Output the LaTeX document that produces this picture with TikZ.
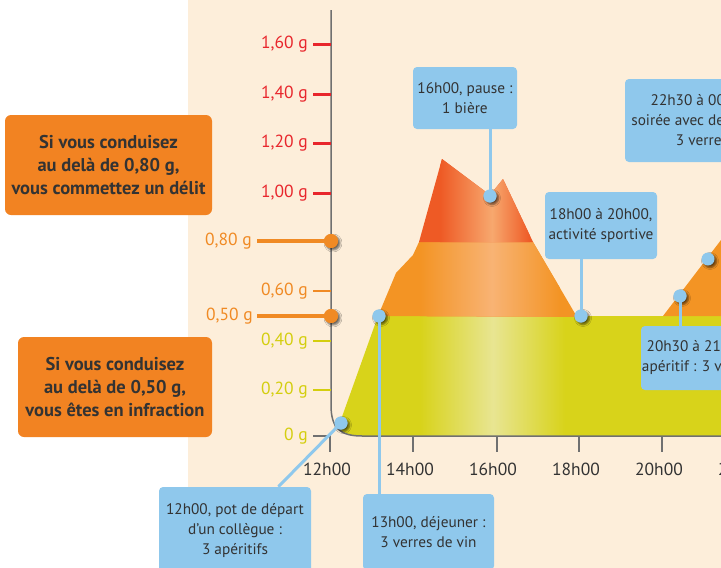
\documentclass[tikz,border=0pt]{standalone}
\usepackage{fontspec}
\setmainfont{PT Sans}
\usetikzlibrary{shadows.blur,calc}
\definecolor{cream}{HTML}{FDEEDA}
\definecolor{orb}{HTML}{F28322}
\definecolor{redc}{HTML}{E8262C}
\definecolor{orc}{HTML}{F08A24}
\definecolor{yelc}{HTML}{D4CE0E}
\definecolor{axc}{HTML}{707070}
\definecolor{blu}{HTML}{8FC8EC}
\definecolor{txt}{HTML}{333333}
\definecolor{yel}{HTML}{D8D31A}
\definecolor{yell}{HTML}{E8E592}
\definecolor{orf}{HTML}{F39424}
\definecolor{orfl}{HTML}{F8B374}
\definecolor{rdf}{HTML}{EE5A25}
\definecolor{rdfl}{HTML}{F7A86E}
\begin{document}
\begin{tikzpicture}[x=1pt,y=-1pt,
 lab/.style={font=\fontsize{17.5}{20}\selectfont, inner sep=0pt},
 xlab/.style={font=\fontsize{17.5}{20}\selectfont, inner sep=0pt, text=txt, anchor=base},
 blubox/.style={fill=blu, rounded corners=4pt, align=center, text=txt, font=\fontsize{15.3}{20}\selectfont, inner sep=0pt},
 orbox/.style={fill=orb, rounded corners=6pt, align=center, text=txt, font=\fontsize{18.5}{23}\selectfont\bfseries, inner sep=0pt},
 bdot/.style={circle, fill=blu, minimum size=13pt, inner sep=0pt, blur shadow={shadow xshift=2pt, shadow yshift=-2pt, shadow blur radius=2pt, shadow opacity=60}},
 odot/.style={circle, fill=orc, minimum size=14pt, inner sep=0pt, blur shadow={shadow xshift=2pt, shadow yshift=-2pt, shadow blur radius=2pt, shadow opacity=60}},
 conn/.style={draw=blu, line width=3pt},
 tickx/.style={draw=axc, line width=1.5pt}
]
\useasboundingbox (0,0) rectangle (721,568);
\clip (0,0) rectangle (721,568);
\fill[cream] (188,0) rectangle (721,568);

% yellow band
\def\yelpath{(338,428) -- (378,316) -- (730,316) -- (730,436) -- (362,436) .. controls (350,436) and (343,433) .. (338,428) -- cycle}
\fill[yel] \yelpath;
\begin{scope}
\clip \yelpath;
\shade[left color=yel, right color=yell] (420,300) rectangle (493,440);
\shade[left color=yell, right color=yel] (493,300) rectangle (565,440);
\end{scope}
% orange band
\def\orpath{(378,316) -- (396,273) -- (413,255) -- (419,242) -- (533,242) -- (577,317) -- cycle}
\fill[orf] \orpath;
\begin{scope}
\clip \orpath;
\shade[left color=orf, right color=orfl] (420,230) rectangle (492,320);
\shade[left color=orfl, right color=orf] (492,230) rectangle (560,320);
\end{scope}
\fill[orf] (663,316) -- (721,240) -- (730,240) -- (730,316) -- cycle;
% red band
\def\rdpath{(419,242) -- (442,159) -- (490,195) -- (503,179) -- (533,242) -- cycle}
\fill[rdf] \rdpath;
\begin{scope}
\clip \rdpath;
\shade[left color=rdf, right color=rdfl] (440,150) rectangle (492,245);
\shade[left color=rdfl, right color=rdf] (492,150) rectangle (530,245);
\end{scope}

% axes
\draw[axc, line width=1.5pt] (331,10) -- (331,405) .. controls (331,428) and (340,436) .. (362,436) -- (730,436);
\draw[tickx] (313,436) -- (330,436) -- (330,452);
\foreach \x in {413,497,579,662} \draw[tickx] (\x,436) -- (\x,452);

% y ticks
\foreach \y in {44,94,143,193} \draw[redc, line width=3pt] (313,\y) -- (331,\y);
\draw[orc, line width=2pt] (313,291) -- (331,291);
\foreach \y in {341,390} \draw[yelc, line width=1.5pt] (313,\y) -- (331,\y);

% y labels
\node[lab, text=redc, anchor=base east] (y160) at (308,48.5) {1,60 g};
\node[lab, text=redc, anchor=base east] (y140) at (308,98.5) {1,40 g};
\node[lab, text=redc, anchor=base east] (y120) at (308,147.5) {1,20 g};
\node[lab, text=redc, anchor=base east] (y100) at (308,197.5) {1,00 g};
\node[lab, text=orc, anchor=base east] (y80) at (252,245.5) {0,80 g};
\node[lab, text=orc, anchor=base east] (y60) at (308,295.5) {0,60 g};
\node[lab, text=orc, anchor=base east] (y50) at (253,320.5) {0,50 g};
\node[lab, text=yelc, anchor=base east] (y40) at (308,345.5) {0,40 g};
\node[lab, text=yelc, anchor=base east] (y20) at (308,394.5) {0,20 g};
\node[lab, text=yelc, anchor=base east] (y0) at (308,440.5) {0 g};

% threshold lines and dots
\node[odot] (o80) at (331,241) {};
\node[odot] (o50) at (331,316) {};
\coordinate (l80) at (257,241);
\coordinate (l50) at (257,316);
\draw[orc, line width=3.5pt] (l80) -- (o80.center);
\draw[orc, line width=3.5pt] (l50) -- (o50.center);
\node[circle, fill=orc, minimum size=14pt, inner sep=0pt] at (o80) {};
\node[circle, fill=orc, minimum size=14pt, inner sep=0pt] at (o50) {};

% x labels
\node[xlab] (x12) at (327,475) {12h00};
\node[xlab] (x14) at (410,475) {14h00};
\node[xlab] (x16) at (493,475) {16h00};
\node[xlab] (x18) at (576,475) {18h00};
\node[xlab] (x20) at (659,475) {20h00};
\node[xlab] (x22) at (742,475) {22h00};

% orange boxes
\node[orbox, minimum width=207pt, minimum height=100pt] (ob1) at (108.5,165) {Si vous conduisez\\au delà de 0,80 g,\\vous commettez un délit};
\node[orbox, minimum width=194pt, minimum height=100pt] (ob2) at (115,387) {Si vous conduisez\\au delà de 0,50 g,\\vous êtes en infraction};

% blue boxes
\node[blubox, minimum width=104pt, minimum height=62pt] (b16) at (465,98) {16h00, pause :\\1 bière};
\node[blubox, minimum width=112pt, minimum height=67pt] (b18) at (601,225.5) {18h00 à 20h00,\\activité sportive};
\node[blubox, minimum width=152pt, minimum height=88pt] (b12) at (235,531) {12h00, pot de départ\\d’un collègue :\\3 apéritifs};
\node[blubox, minimum width=131pt, minimum height=76pt] (b13) at (428.5,532) {13h00, déjeuner :\\3 verres de vin};
\node[blubox, minimum width=154pt, minimum height=83pt] (b22) at (702,120.5) {22h30 à 00h30,\\soirée avec des amis :\\3 verres};
\node[blubox, minimum width=114pt, minimum height=64pt] (b20) at (698,358) {20h30 à 21h00,\\apéritif : 3 verres};

% dots
\node[bdot] (d12) at (341,423) {};
\node[bdot] (d13) at (379,316) {};
\node[bdot] (d16) at (490,196) {};
\node[bdot] (d18) at (581,316) {};
\node[bdot] (d20) at (680,296) {};
\node[bdot] (d22) at (708,259) {};

% connectors
\draw[conn] (d12.center) -- (b12);
\draw[conn] (d13.center) -- (d13.center |- b13.north);
\draw[conn] (d16.center) -- (d16.center |- b16.south);
\draw[conn] (d18.center) -- (d18.center |- b18.south);
\draw[conn] (d20.center) -- (d20.center |- b20.north);
\foreach \d in {d12,d13,d16,d18,d20} \node[circle, fill=blu, minimum size=13pt, inner sep=0pt] at (\d) {};
\end{tikzpicture}
\end{document}
